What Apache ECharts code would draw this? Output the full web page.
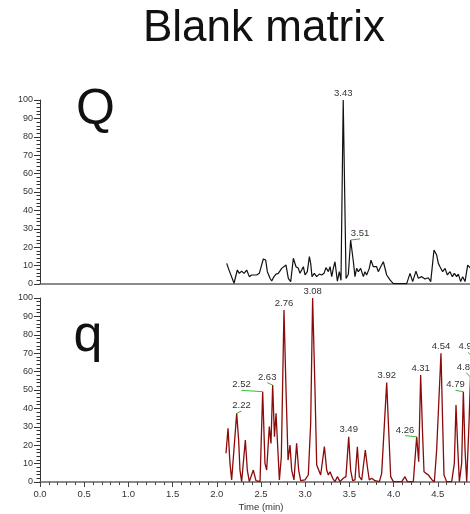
<!DOCTYPE html>
<html>
<head>
<meta charset="utf-8">
<script src="https://cdn.jsdelivr.net/npm/echarts@6/dist/echarts.min.js"></script>
<style>html,body{margin:0;padding:0;background:#fff}#c{width:470px;height:514px}</style>
</head>
<body>
<div id="c"></div>
<script>
// ---- data ----
const topTime = [2.112,2.131,2.195,2.232,2.255,2.281,2.308,2.338,2.368,2.394,2.413,2.451,2.481,2.496,2.526,2.553,2.572,2.602,2.621,2.647,2.670,2.696,2.715,2.734,2.753,2.783,2.809,2.836,2.866,2.896,2.923,2.941,2.960,2.979,2.998,3.024,3.047,3.062,3.077,3.103,3.130,3.160,3.186,3.213,3.235,3.262,3.281,3.300,3.318,3.337,3.364,3.386,3.405,3.430,3.462,3.488,3.514,3.545,3.563,3.582,3.601,3.627,3.658,3.676,3.695,3.725,3.744,3.771,3.790,3.808,3.827,3.854,3.884,3.922,3.959,3.997,4.148,4.186,4.216,4.253,4.280,4.318,4.356,4.393,4.420,4.457,4.487,4.506,4.525,4.555,4.582,4.608,4.638,4.665,4.687,4.713,4.732,4.759,4.781,4.808,4.838,4.857,4.880];
const topIntensity = [11.2,8.5,0.4,7.6,5.8,7.0,5.8,7.6,4.0,4.9,4.0,4.9,5.8,4.9,13.6,13.0,6.7,3.1,1.6,4.0,5.4,5.8,4.9,8.5,7.6,10.3,3.1,1.3,14.0,9.4,8.5,5.8,7.6,9.4,4.9,6.7,14.9,11.2,4.0,5.8,4.0,5.4,4.9,5.8,8.9,6.7,9.4,4.0,8.5,12.1,1.5,6.7,2.0,100,3.0,5.3,23.9,12.1,4.0,8.5,6.7,8.5,4.0,6.7,4.9,8.5,13.0,9.4,8.5,9.4,6.7,9.4,12.1,4.9,2.2,0.2,0.2,5.8,1.3,7.0,3.1,4.0,2.7,3.4,1.3,18.5,15.8,11.2,9.4,6.7,8.5,4.9,6.7,4.0,5.8,4.0,5.4,1.3,4.0,1.3,10.3,11.2,8.0];

const botTime = [2.104,2.127,2.149,2.168,2.187,2.225,2.247,2.262,2.281,2.323,2.345,2.368,2.413,2.443,2.489,2.519,2.545,2.564,2.594,2.613,2.632,2.652,2.670,2.689,2.708,2.730,2.760,2.783,2.806,2.828,2.847,2.873,2.903,2.926,2.949,2.998,3.035,3.062,3.084,3.111,3.130,3.152,3.175,3.217,3.243,3.262,3.281,3.311,3.337,3.364,3.394,3.431,3.461,3.492,3.514,3.537,3.563,3.590,3.612,3.639,3.680,3.703,3.725,3.752,3.790,3.839,3.865,3.884,3.922,3.941,3.967,3.997,4.092,4.129,4.156,4.223,4.261,4.284,4.306,4.329,4.344,4.367,4.393,4.412,4.435,4.461,4.487,4.536,4.555,4.570,4.600,4.657,4.687,4.706,4.725,4.744,4.770,4.789,4.808,4.827,4.853,4.870,4.890,4.920,4.950];
const botIntensity = [15.6,29.2,10.1,1.1,0.2,37.3,22.8,6.5,0.2,22.8,6.5,0.2,6.5,0.7,0.2,49.1,10.1,6.5,30.1,21.0,52.7,24.6,37.3,19.2,1.1,13.8,93.5,50.0,11.9,20.1,6.5,1.1,21.0,6.5,0.7,1.1,3.8,31.9,100,50.0,9.2,8.3,3.8,19.2,6.5,3.8,5.6,2.0,0.2,2.9,0.2,2.0,2.9,24.6,6.5,0.7,1.1,19.2,2.9,1.1,17.4,8.3,1.1,2.0,0.7,0.2,4.7,3.8,54.0,31.9,2.9,0.2,0.2,2.9,0.2,0.2,24.6,11.0,58.2,24.6,5.6,4.7,3.8,4.3,1.1,0.2,17.4,70.0,31.9,3.8,0.2,0.2,10.1,41.8,19.2,0.2,10.1,49.1,17.4,0.2,31.9,57.0,10.0,67.0,5.0];

// peak annotations: apex time, apex height, text
const topPeakTime = [3.430, 3.514];
const topPeakHeight = [100, 23.9];
const topPeakText = ['3.43', '3.51'];
const botPeakTime = [2.225, 2.519, 2.632, 2.760, 3.084, 3.492, 3.922, 4.261, 4.306, 4.536, 4.789, 4.870, 4.920];
const botPeakHeight = [37.3, 49.1, 52.7, 93.5, 100, 24.6, 54.0, 24.6, 58.2, 70.0, 49.1, 57.0, 67.0];
const botPeakText = ['2.22', '2.52', '2.63', '2.76', '3.08', '3.49', '3.92', '4.26', '4.31', '4.54', '4.79', '4.87', '4.92'];

const xTicks = [0, 0.5, 1.0, 1.5, 2.0, 2.5, 3.0, 3.5, 4.0, 4.5, 5.0];
const yTicks = [0, 10, 20, 30, 40, 50, 60, 70, 80, 90, 100];

// layout-only: where displaced labels sit (label bottom-centre, data units); null = directly above apex
const topLabelAnchor = [null, [3.62, 24.5]];
const botLabelAnchor = [[2.28, 38.6], [2.28, 49.8], [2.57, 54.0], null, null, null, null, [4.13, 25.2], null, null, [4.70, 49.8], [4.82, 59.5], [4.84, 70.5]];

// ---- chart ----
const chart = echarts.init(document.getElementById('c'), null, {renderer: 'canvas'});
const FONT = 'Arial, "Liberation Sans", sans-serif';

function zip(a, b) { return a.map((v, i) => [v, b[i]]); }
function peakData(t, h, anchors) {
  return t.map((v, i) => {
    const a = anchors[i];
    return a ? [v, h[i], a[0], a[1], 1] : [v, h[i], v, h[i], 0];
  });
}
function makeLabelRender(texts) {
  return function (params, api) {
    const p = api.coord([api.value(0), api.value(1)]);
    const l = api.coord([api.value(2), api.value(3)]);
    const moved = api.value(4) === 1;
    const children = [];
    if (moved) {
      children.push({type: 'line', shape: {x1: l[0], y1: l[1], x2: p[0], y2: p[1]},
        style: {stroke: '#33bb33', lineWidth: 1}});
    }
    children.push({type: 'text', style: {text: texts[params.dataIndex], x: l[0], y: moved ? l[1] - 0.5 : p[1] - 2,
      align: 'center', verticalAlign: 'bottom', fontSize: 9.5, fontFamily: FONT, fill: '#333'}});
    return {type: 'group', children};
  };
}

function xAxisCfg(gi, showLabels) {
  return {
    type: 'value', gridIndex: gi, min: xTicks[0], max: xTicks[xTicks.length - 1], interval: xTicks[1] - xTicks[0],
    axisLine: {show: true, lineStyle: {color: '#666', width: 1.5}},
    axisTick: {show: showLabels, length: 5, lineStyle: {color: '#444'}},
    minorTick: {show: showLabels, splitNumber: 5, length: 3, lineStyle: {color: '#444'}},
    axisLabel: {show: showLabels, fontSize: 9.5, fontFamily: FONT, color: '#333', margin: 7,
      formatter: v => v.toFixed(1)},
    splitLine: {show: false},
    name: showLabels ? 'Time (min)' : '', nameLocation: 'middle', nameGap: 20,
    nameTextStyle: {fontSize: 9.5, fontFamily: FONT, color: '#333'}
  };
}
function yAxisCfg(gi) {
  return {
    type: 'value', gridIndex: gi, min: yTicks[0], max: yTicks[yTicks.length - 1], interval: yTicks[1] - yTicks[0],
    axisLine: {show: true, lineStyle: {color: '#333', width: 1}},
    axisTick: {show: true, length: 6, lineStyle: {color: '#333'}},
    minorTick: {show: true, splitNumber: 5, length: 3.5, lineStyle: {color: '#333'}},
    axisLabel: {fontSize: 9, fontFamily: FONT, color: '#333', margin: 7},
    splitLine: {show: false}
  };
}

chart.setOption({
  animation: false,
  backgroundColor: '#fff',
  grid: [
    {left: 40, width: 442, top: 100, height: 184, outerBoundsMode: 'none', containLabel: false},
    {left: 40, width: 442, top: 298, height: 184, outerBoundsMode: 'none', containLabel: false}
  ],
  xAxis: [xAxisCfg(0, false), xAxisCfg(1, true)],
  yAxis: [yAxisCfg(0), yAxisCfg(1)],
  graphic: [
    {type: 'text', style: {text: 'Blank matrix', x: 264, y: 29, align: 'center', verticalAlign: 'middle',
      fontSize: 44, fontFamily: FONT, fill: '#111'}},
    {type: 'text', style: {text: 'Q', x: 95.5, y: 110, align: 'center', verticalAlign: 'middle',
      fontSize: 50, fontFamily: FONT, fill: '#111'}},
    {type: 'text', style: {text: 'q', x: 88, y: 337, align: 'center', verticalAlign: 'middle',
      fontSize: 52, fontFamily: FONT, fill: '#111'}}
  ],
  series: [
    {type: 'line', xAxisIndex: 0, yAxisIndex: 0, data: zip(topTime, topIntensity), showSymbol: false,
      lineStyle: {color: '#111', width: 1.2}, clip: true},
    {type: 'line', xAxisIndex: 1, yAxisIndex: 1, data: zip(botTime, botIntensity), showSymbol: false,
      lineStyle: {color: '#8b0a0a', width: 1.3}, clip: true},
    {type: 'custom', xAxisIndex: 0, yAxisIndex: 0, data: peakData(topPeakTime, topPeakHeight, topLabelAnchor),
      encode: {x: [0, 2], y: [1, 3]}, renderItem: makeLabelRender(topPeakText), z: 5},
    {type: 'custom', xAxisIndex: 1, yAxisIndex: 1, data: peakData(botPeakTime, botPeakHeight, botLabelAnchor),
      encode: {x: [0, 2], y: [1, 3]}, renderItem: makeLabelRender(botPeakText), z: 5}
  ]
});
</script>
</body>
</html>
